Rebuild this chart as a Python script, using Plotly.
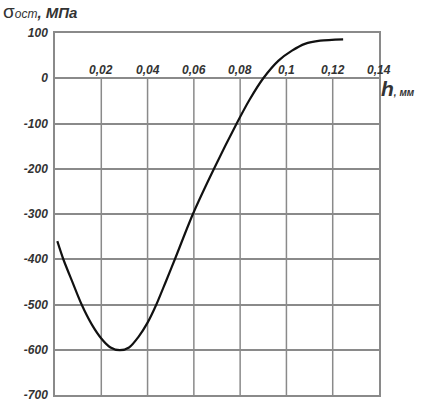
import plotly.graph_objects as go

# data
h_mm = [0.001, 0.0036, 0.0075, 0.0115, 0.016, 0.020, 0.024, 0.028, 0.032, 0.036,
        0.040, 0.0438, 0.048, 0.0518, 0.0596, 0.0687, 0.0785, 0.084, 0.090, 0.0966,
        0.1024, 0.108, 0.1146, 0.1245]
sigma_mpa = [-360, -400, -450, -500, -545, -575, -595, -601, -595, -572,
             -540, -500, -448, -400, -300, -200, -100, -48, 0, 39,
             61, 76, 83, 86]

x_ticks = [0.02, 0.04, 0.06, 0.08, 0.10, 0.12, 0.14]
x_ticklabels = ["0,02", "0,04", "0,06", "0,08", "0,1", "0,12", "0,14"]
y_ticks = [100, 0, -100, -200, -300, -400, -500, -600, -700]
y_ticklabels = ["100", "0", "-100", "-200", "-300", "-400", "-500", "-600", "-700"]

GRID = "#8a8a8a"
TXT = "#333333"
FONT = "Liberation Sans"

fig = go.Figure()
fig.add_trace(go.Scatter(x=h_mm, y=sigma_mpa, mode="lines",
                         line=dict(color="#111111", width=2.2, shape="spline", smoothing=0.8),
                         showlegend=False, hoverinfo="skip"))

shapes = []
for xv in x_ticks[:-1]:
    shapes.append(dict(type="line", xref="x", yref="y", x0=xv, x1=xv, y0=min(y_ticks), y1=0,
                       line=dict(color=GRID, width=1.5), layer="below"))

annotations = []
for xv, lab in zip(x_ticks, x_ticklabels):
    annotations.append(dict(x=xv, y=0, xref="x", yref="y", text=lab, showarrow=False,
                            xanchor="center", yanchor="bottom", yshift=-1,
                            font=dict(family=FONT, size=12, color=TXT, weight="bold", style="italic")))
annotations.append(dict(x=0, y=1, xref="paper", yref="paper", xanchor="left", yanchor="top",
                        xshift=-53, yshift=33, showarrow=False, borderpad=0,
                        text="<span style='font-size:19px'>σ</span><span style='font-size:12px;font-style:italic'>ост</span>"
                             "<span style='font-size:15px'><b><i>, МПа</i></b></span>",
                        font=dict(family=FONT, size=15, color=TXT)))
annotations.append(dict(x=0.14, y=0, xref="x", yref="y", xanchor="left", yanchor="top", xshift=0, yshift=3,
                        showarrow=False,
                        text="<b><i>h</i></b><span style='font-size:10px'><b><i>, мм</i></b></span>",
                        font=dict(family=FONT, size=21, color=TXT)))

fig.update_layout(
    width=425, height=399,
    margin=dict(l=55, r=46, t=33, b=4),
    paper_bgcolor="white", plot_bgcolor="white",
    shapes=shapes, annotations=annotations,
    xaxis=dict(range=[0, 0.14], showgrid=False, zeroline=False, showticklabels=False,
               showline=True, linecolor=GRID, linewidth=1.5, mirror=True, ticks="",
               automargin=False),
    yaxis=dict(range=[-700, 100], tickvals=y_ticks, ticktext=y_ticklabels,
               showgrid=True, gridcolor=GRID, gridwidth=1.5, zeroline=False,
               showline=True, linecolor=GRID, linewidth=1.5, mirror=True, ticks="",
               ticklabelstandoff=3, automargin=False, ticklabeloverflow="allow",
               tickfont=dict(family=FONT, size=12, color=TXT, weight="bold", style="italic")),
)

fig.write_html("out.html", config={"displayModeBar": False},
               post_script="document.body.style.margin='0';document.body.style.overflow='hidden';")
